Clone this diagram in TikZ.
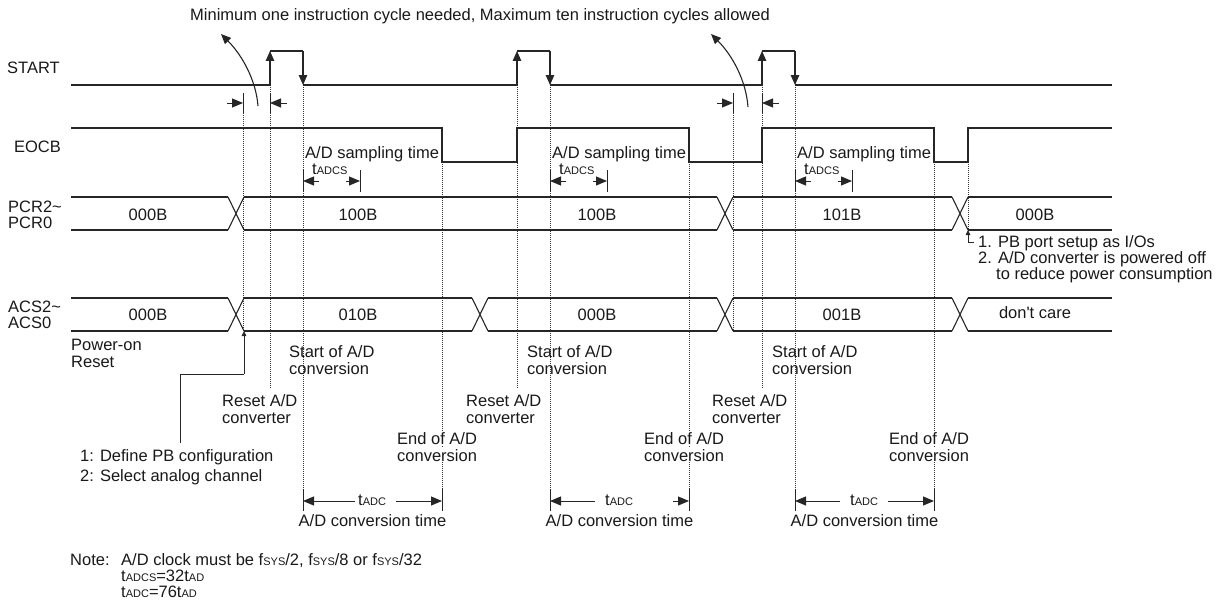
\documentclass[tikz,border=0pt]{standalone}
\usepackage{fontspec}
\setmainfont{Liberation Sans}
\usetikzlibrary{arrows.meta}
\newcommand\sm[1]{{\fontsize{11pt}{12pt}\selectfont #1}}
\tikzset{
  sig/.style={line width=1.1pt, draw=black!85},
  guide/.style={line width=0.6pt, dash pattern=on 1pt off 1pt, draw=black!80},
  bar/.style={line width=1pt, draw=black!85},
  lbl/.style={inner sep=0pt, font=\fontsize{16.5pt}{17pt}\selectfont, anchor=base west, text=black!90},
  lblc/.style={lbl, anchor=base},
  tip/.style={line width=1pt, draw=black!85, -{Triangle[length=11pt,width=9pt]}},
  smalltip/.style={line width=0.8pt, draw=black!85, -{Triangle[length=5pt,width=4.5pt]}},
  edgetip/.style={line width=1.1pt, draw=black!85, -{Triangle[length=10pt,width=8.5pt]}},
}
\begin{document}
\begin{tikzpicture}[x=1pt,y=-1pt]
\useasboundingbox (0,0) rectangle (1225,602);

% ---------- title and curved arrows
\node[lblc] (title) at (480,21) {Minimum one instruction cycle needed, Maximum ten instruction cycles allowed};
\coordinate (c1s) at (258,106); \coordinate (c1e) at (221,34);
\coordinate (c2s) at (748,107); \coordinate (c2e) at (711,34);
\draw[edgetip] (c1s) .. controls (256,80) and (242,55) .. (c1e);
\draw[edgetip] (c2s) .. controls (746,80) and (732,55) .. (c2e);

% ---------- signal names
\node[lbl] (nstart) at (7,74) {START};
\node[lbl, anchor=base east] (neocb) at (61,152) {EOCB};
\node[lbl] (npcr1) at (8,212) {PCR2\textasciitilde};
\node[lbl] (npcr2) at (8,228) {PCR0};
\node[lbl] (nacs1) at (8,312) {ACS2\textasciitilde};
\node[lbl] (nacs2) at (8,328) {ACS0};

% ---------- guide (dotted) lines
\foreach \x/\ya/\yb in {243/113/331, 270/85/388, 303/85/511, 442/162/511,
    517/85/388, 550/85/511, 689/162/511, 733/113/331, 762/85/388,
    795/85/511, 934/162/511, 968/162/230}
  \draw[guide] (\x,\ya) -- (\x,\yb);

% ---------- START
\draw[sig] (71,85) -- (270,85);
\draw[edgetip] (270,85) -- (270,51);
\draw[sig] (270,51) -- (303,51);
\draw[edgetip] (303,51) -- (303,85);
\draw[sig] (303,85) -- (517,85);
\draw[edgetip] (517,85) -- (517,51);
\draw[sig] (517,51) -- (550,51);
\draw[edgetip] (550,51) -- (550,85);
\draw[sig] (550,85) -- (762,85);
\draw[edgetip] (762,85) -- (762,51);
\draw[sig] (762,51) -- (795,51);
\draw[edgetip] (795,51) -- (795,85);
\draw[sig] (795,85) -- (1112,85);

% ---------- instruction-cycle markers
\foreach \a/\b in {243/270, 733/762}{
  \draw[bar] (\a,93) -- (\a,113);
  \draw[bar] (\b,93) -- (\b,113);
  \draw[tip] (\a-16,103) -- (\a,103);
  \draw[tip] (\b+17,103) -- (\b,103);
}

% ---------- EOCB
\draw[sig] (71,128) -- (442,128) -- (442,162) -- (517,162) -- (517,128)
  -- (689,128) -- (689,162) -- (762,162) -- (762,128) -- (934,128)
  -- (934,162) -- (968,162) -- (968,128) -- (1112,128);

% ---------- sampling time
\foreach \s/\e in {303/360, 550/607, 795/852}{
  \node[lbl] at (\s+2,158) {A/D sampling time};
  \node[lbl] at (\s+9,174) {t\sm{ADCS}};
  \draw[bar] (\s,170) -- (\s,192);
  \draw[bar] (\e,170) -- (\e,192);
  \draw[tip] (\s+16,181) -- (\s,181);
  \draw[tip] (\e-14,181) -- (\e,181);
}

% ---------- buses
\def\bt{197}\def\bb{230}
\foreach \a/\b in {71/228, 244/717, 733/952, 968/1112}{
  \draw[sig] (\a,\bt) -- (\b,\bt);
  \draw[sig] (\a,\bb) -- (\b,\bb);
}
\foreach \x in {228, 717, 952}{
  \draw[sig] (\x,\bt) -- (\x+16,\bb);
  \draw[sig] (\x,\bb) -- (\x+16,\bt);
}
\def\ct{298}\def\cb{331}
\foreach \a/\b in {71/228, 244/472, 488/717, 733/952, 968/1112}{
  \draw[sig] (\a,\ct) -- (\b,\ct);
  \draw[sig] (\a,\cb) -- (\b,\cb);
}
\foreach \x in {228, 472, 717, 952}{
  \draw[sig] (\x,\ct) -- (\x+16,\cb);
  \draw[sig] (\x,\cb) -- (\x+16,\ct);
}
\node[lblc] (p0) at (148,220) {000B};
\node[lblc] (p1) at (358,220) {100B};
\node[lblc] (p2) at (597,220) {100B};
\node[lblc] (p3) at (842,220) {101B};
\node[lblc] (p4) at (1035,220) {000B};
\node[lblc] (a0) at (148,320) {000B};
\node[lblc] (a1) at (358,320) {010B};
\node[lblc] (a2) at (597,320) {000B};
\node[lblc] (a3) at (842,320) {001B};
\node[lblc] (a4) at (1035,318) {don\textquotesingle t care};

% ---------- right annotation
\node[lbl] (r1) at (978,247) {1. PB port setup as I/Os};
\node[lbl] (r2) at (978,263) {2. A/D converter is powered off};
\node[lbl] (r3) at (996,279) {to reduce power consumption};
\coordinate (rA) at (974,242);
\coordinate (rB) at (968,230);
\draw[smalltip] (rA) -| (rB);

% ---------- power-on reset & left annotation
\node[lbl] (por1) at (71,350) {Power-on};
\node[lbl] (por2) at (71,367) {Reset};
\node[lbl] (def1) at (80,461) {1: Define PB configuration};
\node[lbl] (def2) at (80,481) {2: Select analog channel};
\coordinate (lA) at (180,443);
\coordinate (lB) at (244,374);
\coordinate (lC) at (244,331);
\draw[line width=0.8pt, draw=black!85] (lA) |- (lB);
\draw[smalltip] (lB) -- (lC);

% ---------- start / reset / end labels
\foreach \x in {289, 527, 772}{
  \node[lbl] at (\x,357) {Start of A/D};
  \node[lbl] at (\x,374) {conversion};
}
\foreach \x in {222, 466, 712}{
  \node[lbl] at (\x,406) {Reset A/D};
  \node[lbl] at (\x,423) {converter};
}
\foreach \x in {396, 643, 888}{
  \node[lbl, fill=white, inner sep=1pt] at (\x,444) {End of A/D};
  \node[lbl, fill=white, inner sep=1pt] at (\x,461) {conversion};
}

% ---------- conversion time
\foreach \s/\e/\la/\ra/\tx in {303/442/355/396/358, 550/689/595/673/605, 795/934/840/888/850}{
  \draw[bar] (\s,489) -- (\s,511);
  \draw[bar] (\e,489) -- (\e,511);
  \draw[tip] (\la,501) -- (\s,501);
  \draw[tip] (\ra,501) -- (\e,501);
  \node[lbl] at (\tx,505) {t\sm{ADC}};
  \node[lblc] at ({(\s+\e)/2},526) {A/D conversion time};
}

% ---------- note
\node[lbl] (note) at (70,565) {Note:};
\node[lbl] (n1) at (121,565) {A/D clock must be f\sm{SYS}/2, f\sm{SYS}/8 or f\sm{SYS}/32};
\node[lbl] (n2) at (121,581) {t\sm{ADCS}=32t\sm{AD}};
\node[lbl] (n3) at (121,597) {t\sm{ADC}=76t\sm{AD}};
\end{tikzpicture}
\end{document}
